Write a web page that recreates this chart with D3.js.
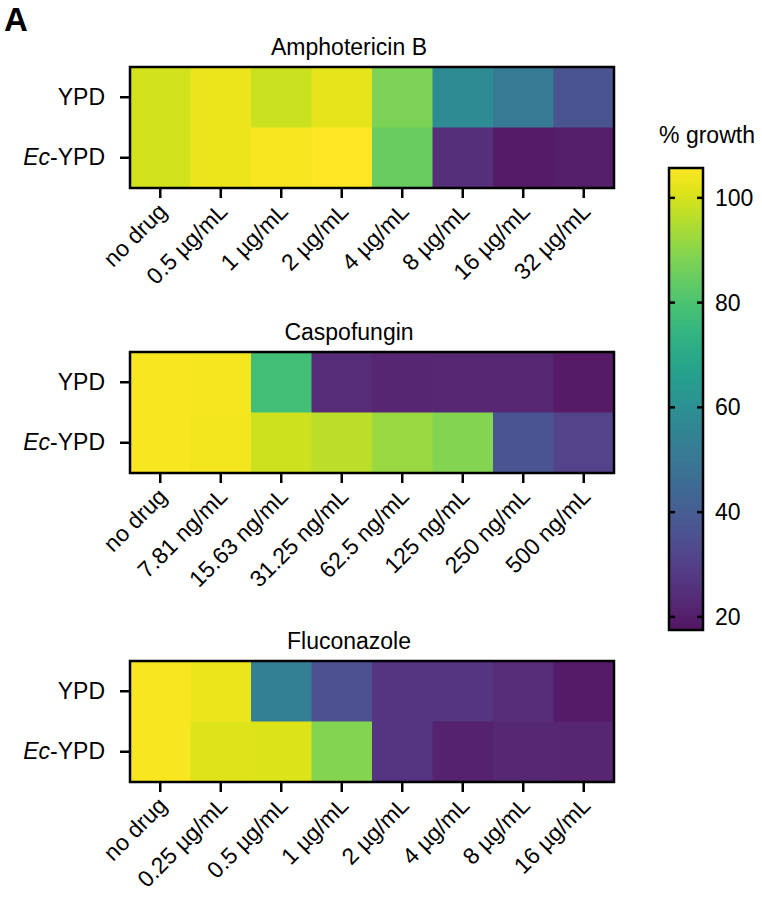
<!DOCTYPE html>
<html>
<head>
<meta charset="utf-8">
<script src="https://cdn.jsdelivr.net/npm/d3@7"></script>
<style>
  body { margin: 0; background: #fff; }
  svg { display: block; font-family: "Liberation Sans", Arial, sans-serif; }
</style>
</head>
<body>
<div class="wrapper"></div>
<script>
const width = 762;
const height = 899;

const rows = ["YPD", "Ec-YPD"];

const amphoDoses = ["no drug", "0.5 µg/mL", "1 µg/mL", "2 µg/mL", "4 µg/mL", "8 µg/mL", "16 µg/mL", "32 µg/mL"];
const amphoYPD = [99.5, 103, 98.5, 102, 88, 58, 51, 37];
const amphoEc = [99.5, 103, 105, 105.5, 85, 25, 19.5, 20];

const caspoDoses = ["no drug", "7.81 ng/mL", "15.63 ng/mL", "31.25 ng/mL", "62.5 ng/mL", "125 ng/mL", "250 ng/mL", "500 ng/mL"];
const caspoYPD = [105, 104.5, 78, 24, 22, 23, 22.5, 19];
const caspoEc = [105, 104, 99, 96.5, 92, 89, 37, 31];

const flucoDoses = ["no drug", "0.25 µg/mL", "0.5 µg/mL", "1 µg/mL", "2 µg/mL", "4 µg/mL", "8 µg/mL", "16 µg/mL"];
const flucoYPD = [105, 103, 53, 35.5, 27, 27, 24, 19.5];
const flucoEc = [105, 101.5, 101, 89, 27, 21, 23, 22];

const colorTicks = [20, 40, 60, 80, 100];
const colorDomain = [17.5, 105.7];

const panels = [
  { title: "Amphotericin B", doses: amphoDoses, values: [amphoYPD, amphoEc], top: 67 },
  { title: "Caspofungin", doses: caspoDoses, values: [caspoYPD, caspoEc], top: 352 },
  { title: "Fluconazole", doses: flucoDoses, values: [flucoYPD, flucoEc], top: 661 }
];

const left = 130;
const right = 614;
const rowH = 60.5;
const fontSize = 23;

// viridis, dark end lifted a little to look like the printed figure
const viridisLift = (t) => d3.interpolateRgb(d3.interpolateViridis(t), "#fff")(0.08 * (1 - t));
const color = d3.scaleSequential(viridisLift).domain(colorDomain);

const svg = d3
  .select(".wrapper")
  .append("svg")
  .attr("width", width)
  .attr("height", height)
  .attr("viewBox", [0, 0, width, height]);

svg.append("text")
  .attr("x", 4)
  .attr("y", 31)
  .attr("font-size", 33)
  .attr("font-weight", "bold")
  .text("A");

panels.forEach((p) => {
  const g = svg.append("g").attr("transform", `translate(0,${p.top})`);

  const x = d3.scaleBand().domain(p.doses).range([left, right]);
  const y = d3.scaleBand().domain(rows).range([0, rowH * 2]);

  const cells = [];
  p.values.forEach((vals, r) => {
    vals.forEach((v, c) => cells.push({ row: rows[r], dose: p.doses[c], v }));
  });

  g.selectAll("rect.cell")
    .data(cells)
    .join("rect")
    .attr("class", "cell")
    .attr("x", (d) => x(d.dose))
    .attr("y", (d) => y(d.row))
    .attr("width", x.bandwidth() + 0.5)
    .attr("height", y.bandwidth() + 0.5)
    .attr("fill", (d) => color(d.v));

  g.append("rect")
    .attr("x", left)
    .attr("y", 0)
    .attr("width", right - left)
    .attr("height", rowH * 2)
    .attr("fill", "none")
    .attr("stroke", "#000")
    .attr("stroke-width", 2.5);

  g.append("text")
    .attr("x", 349)
    .attr("y", -12)
    .attr("text-anchor", "middle")
    .attr("font-size", fontSize)
    .text(p.title);

  // x axis
  const xAxis = g.append("g")
    .attr("transform", `translate(0,${rowH * 2})`)
    .call(d3.axisBottom(x).tickSize(10).tickSizeOuter(0));
  xAxis.select(".domain").remove();
  xAxis.selectAll(".tick line").attr("stroke", "#000").attr("stroke-width", 2.5);
  xAxis.selectAll(".tick text")
    .attr("font-size", fontSize)
    .attr("font-family", "Liberation Sans, Arial, sans-serif")
    .attr("fill", "#000")
    .attr("text-anchor", "end")
    .attr("dy", null)
    .attr("y", 0)
    .attr("transform", "translate(8,25) rotate(-45)");

  // y axis
  const yAxis = g.append("g")
    .attr("transform", `translate(${left},0)`)
    .call(d3.axisLeft(y).tickSize(10).tickSizeOuter(0));
  yAxis.select(".domain").remove();
  yAxis.selectAll(".tick line").attr("stroke", "#000").attr("stroke-width", 2.5);
  yAxis.selectAll(".tick text")
    .attr("font-size", fontSize)
    .attr("font-family", "Liberation Sans, Arial, sans-serif")
    .attr("fill", "#000")
    .attr("x", -25)
    .text(null)
    .each(function (d) {
      const t = d3.select(this);
      if (d.startsWith("Ec-")) {
        t.append("tspan").attr("font-style", "italic").text("Ec");
        t.append("tspan").text("-YPD");
      } else {
        t.append("tspan").text(d);
      }
    });
});

// colour bar
const cbX = 669;
const cbW = 34;
const cbTop = 168;
const cbBottom = 630;
const cy = d3.scaleLinear().domain(colorDomain).range([cbBottom, cbTop]);

const defs = svg.append("defs");
const grad = defs.append("linearGradient")
  .attr("id", "cbar")
  .attr("x1", 0).attr("x2", 0)
  .attr("y1", 1).attr("y2", 0);
d3.range(0, 1.001, 0.05).forEach((t) => {
  grad.append("stop")
    .attr("offset", t)
    .attr("stop-color", viridisLift(t));
});

svg.append("rect")
  .attr("x", cbX)
  .attr("y", cbTop)
  .attr("width", cbW)
  .attr("height", cbBottom - cbTop)
  .attr("fill", "url(#cbar)")
  .attr("stroke", "#000")
  .attr("stroke-width", 2.5);

svg.append("text")
  .attr("x", 707)
  .attr("y", 143)
  .attr("text-anchor", "middle")
  .attr("font-size", fontSize)
  .text("% growth");

const cTicks = svg.append("g").selectAll("g")
  .data(colorTicks)
  .join("g")
  .attr("transform", (d) => `translate(0,${cy(d)})`);

cTicks.append("line")
  .attr("x1", cbX).attr("x2", cbX + 6)
  .attr("stroke", "#000").attr("stroke-width", 2.5);
cTicks.append("line")
  .attr("x1", cbX + cbW - 6).attr("x2", cbX + cbW)
  .attr("stroke", "#000").attr("stroke-width", 2.5);
cTicks.append("text")
  .attr("x", 715)
  .attr("dy", "0.35em")
  .attr("font-size", fontSize)
  .text((d) => d);
</script>
</body>
</html>
